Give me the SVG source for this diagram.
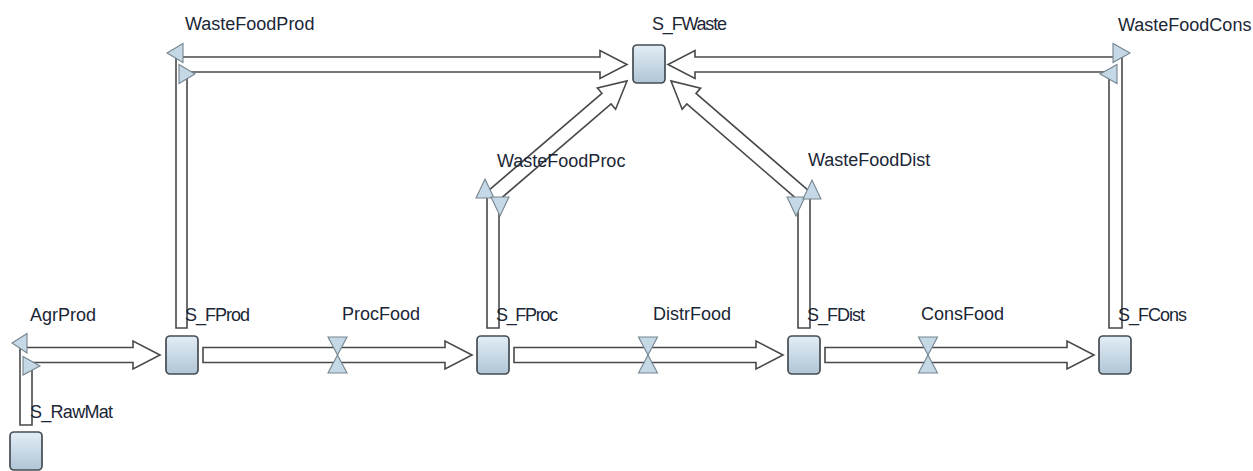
<svg xmlns="http://www.w3.org/2000/svg" width="1253" height="471" viewBox="0 0 1253 471">
  <defs>
    <linearGradient id="stockFill" x1="0" y1="0" x2="0" y2="1">
      <stop offset="0" stop-color="#e2edf6"/>
      <stop offset="1" stop-color="#b0c5d5"/>
    </linearGradient>
    <style>
      .stock { fill: url(#stockFill); stroke: #464c52; stroke-width: 1.7; }
      .pipe { fill: #ffffff; stroke: #47494c; stroke-width: 1.6; stroke-linejoin: miter; }
      .valve { fill: #c4d8e6; stroke: #76858f; stroke-width: 1.1; stroke-linejoin: miter; }
      .label { font-family: "Liberation Sans", Arial, sans-serif; font-size: 18px; fill: #1b2636; }
    </style>
  </defs>

  <rect width="1253" height="471" fill="#ffffff"/>

  <!-- flows: pipes with arrowheads, valves drawn on top -->
  <g id="connectors">
    <!-- AgrProd: S_RawMat -> S_FProd -->
    <polygon class="pipe" points="20,425 20,347.5 133,347.5 133,341 160,355 133,369 133,362.5 32,362.5 32,425"/>
    <!-- ProcFood: S_FProd -> S_FProc -->
    <polygon class="pipe" points="203,347.5 445,347.5 445,341 472,355 445,369 445,362.5 203,362.5"/>
    <!-- DistrFood: S_FProc -> S_FDist -->
    <polygon class="pipe" points="514,347.5 756,347.5 756,341 783,355 756,369 756,362.5 514,362.5"/>
    <!-- ConsFood: S_FDist -> S_FCons -->
    <polygon class="pipe" points="825,347.5 1067,347.5 1067,341 1094,355 1067,369 1067,362.5 825,362.5"/>
    <!-- WasteFoodProd: S_FProd -> S_FWaste -->
    <polygon class="pipe" points="176,328 176,57 600,57 600,50.5 627,64.5 600,78.5 600,72 187,72 187,328"/>
    <!-- WasteFoodCons: S_FCons -> S_FWaste -->
    <polygon class="pipe" points="1122,328 1122,57 695,57 695,50.5 668,64.5 695,78.5 695,72 1109,72 1109,328"/>
    <!-- WasteFoodProc: S_FProc -> S_FWaste -->
    <polygon class="pipe" points="487,328 487,191.9 601.9,93.3 597.4,88 627,81 615.6,109.2 611.1,103.9 499,200.1 499,328"/>
    <!-- WasteFoodDist: S_FDist -> S_FWaste -->
    <polygon class="pipe" points="810,328 810,191.9 696,93.4 700.6,88.1 671,81 682.2,109.3 686.8,104 798,200.1 798,328"/>

    <!-- valves on straight flows -->
    <g id="valve-ProcFood">
      <polygon class="valve" points="328,337 347,337 337.5,355"/>
      <polygon class="valve" points="328,373 347,373 337.5,355"/>
    </g>
    <g id="valve-DistrFood">
      <polygon class="valve" points="638.5,337 657.5,337 648,355"/>
      <polygon class="valve" points="638.5,373 657.5,373 648,355"/>
    </g>
    <g id="valve-ConsFood">
      <polygon class="valve" points="918.5,337 937.5,337 928,355"/>
      <polygon class="valve" points="918.5,373 937.5,373 928,355"/>
    </g>
    <!-- valves at bends -->
    <g id="valve-AgrProd">
      <polygon class="valve" points="12,343 27,333.5 27,353"/>
      <polygon class="valve" points="23,356.5 23,375 40,366"/>
    </g>
    <g id="valve-WasteFoodProd">
      <polygon class="valve" points="167,53 183,43.5 183,62.5"/>
      <polygon class="valve" points="179,64.5 179,83.5 195,74"/>
    </g>
    <g id="valve-WasteFoodCons">
      <polygon class="valve" points="1130,53 1113,43.5 1113,62.5"/>
      <polygon class="valve" points="1117,64.5 1117,83.5 1100,74"/>
    </g>
    <g id="valve-WasteFoodProc">
      <polygon class="valve" points="476,198 494,198 485,179"/>
      <polygon class="valve" points="491,197 509,197 500,216"/>
    </g>
    <g id="valve-WasteFoodDist">
      <polygon class="valve" points="787,197 805,197 796,216"/>
      <polygon class="valve" points="803,199 821,199 812,180"/>
    </g>
  </g>

  <!-- stocks -->
  <g id="S_RawMat">
    <rect class="stock" x="10" y="432" width="32" height="38" rx="4"/>
    <text class="label" x="30" y="418" textLength="83">S_RawMat</text>
  </g>
  <g id="S_FProd">
    <rect class="stock" x="166" y="336" width="32" height="38" rx="4"/>
    <text class="label" x="185" y="321" textLength="65">S_FProd</text>
  </g>
  <g id="S_FProc">
    <rect class="stock" x="477" y="336" width="32" height="38" rx="4"/>
    <text class="label" x="496" y="321" textLength="62">S_FProc</text>
  </g>
  <g id="S_FDist">
    <rect class="stock" x="788" y="336" width="32" height="38" rx="4"/>
    <text class="label" x="807" y="321" textLength="58">S_FDist</text>
  </g>
  <g id="S_FCons">
    <rect class="stock" x="1099" y="336" width="32" height="38" rx="4"/>
    <text class="label" x="1118" y="321" textLength="69">S_FCons</text>
  </g>
  <g id="S_FWaste">
    <rect class="stock" x="633" y="45" width="32" height="38" rx="4"/>
    <text class="label" x="652" y="30" textLength="75">S_FWaste</text>
  </g>

  <!-- flow labels -->
  <g id="AgrProd"><text class="label" x="30" y="321">AgrProd</text></g>
  <g id="ProcFood"><text class="label" x="342" y="320">ProcFood</text></g>
  <g id="DistrFood"><text class="label" x="653" y="320">DistrFood</text></g>
  <g id="ConsFood"><text class="label" x="921" y="320">ConsFood</text></g>
  <g id="WasteFoodProd"><text class="label" x="185" y="30">WasteFoodProd</text></g>
  <g id="WasteFoodCons"><text class="label" x="1118" y="31">WasteFoodCons</text></g>
  <g id="WasteFoodProc"><text class="label" x="497" y="167">WasteFoodProc</text></g>
  <g id="WasteFoodDist"><text class="label" x="808" y="166">WasteFoodDist</text></g>
</svg>
